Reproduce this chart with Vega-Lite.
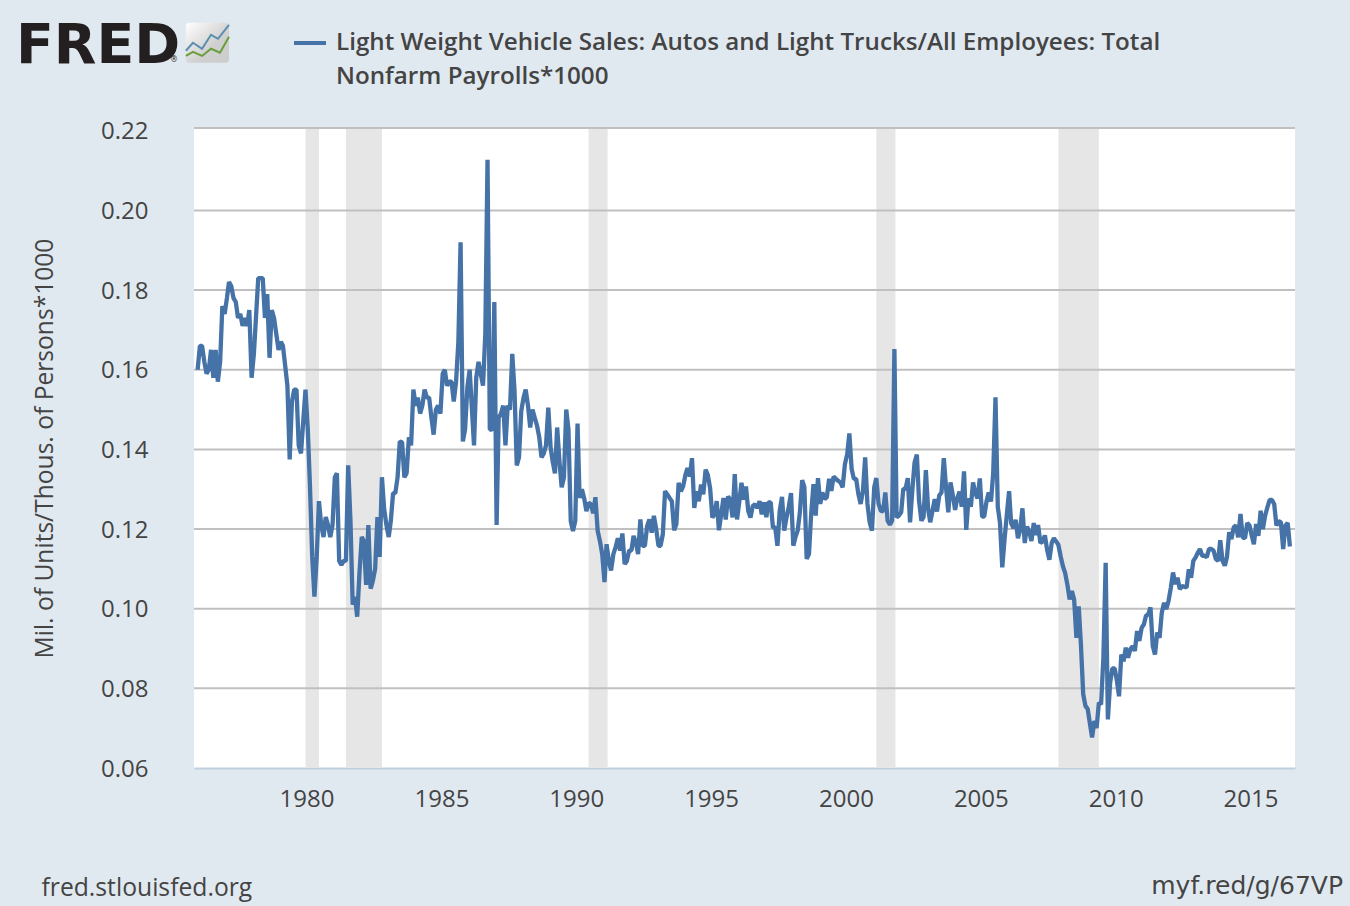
{"$schema":"https://vega.github.io/schema/vega-lite/v6.json","width":1101,"height":640,"autosize":{"type":"none"},"padding":{"left":194,"top":128,"right":55,"bottom":138},"background":"#e1e9f0","config":{"view":{"fill":"#ffffff","stroke":null},"font":"Open Sans"},"datasets":{"rec":[{"s":"1980-01-01","e":"1980-07-01"},{"s":"1981-07-01","e":"1982-11-01"},{"s":"1990-07-01","e":"1991-03-15"},{"s":"2001-03-01","e":"2001-11-15"},{"s":"2007-12-01","e":"2009-06-01"}],"grid":[{"g":0.08},{"g":0.10},{"g":0.12},{"g":0.14},{"g":0.16},{"g":0.18},{"g":0.20},{"g":0.2207}],"logoB":[{"t":"1975-07-26","v":0.2401},{"t":"1975-10-30","v":0.2421},{"t":"1976-03-01","v":0.2406},{"t":"1976-07-01","v":0.2441},{"t":"1976-10-03","v":0.2431},{"t":"1977-03-01","v":0.2466}],"logoG":[{"t":"1975-07-26","v":0.2388},{"t":"1975-10-30","v":0.2398},{"t":"1976-03-01","v":0.2388},{"t":"1976-07-01","v":0.2406},{"t":"1976-10-30","v":0.2396},{"t":"1977-03-01","v":0.2436}],"series":[
{"d":"1976-01-01","v":0.160},{"d":"1976-02-01","v":0.166},{"d":"1976-03-01","v":0.166},{"d":"1976-04-01","v":0.162},{"d":"1976-05-01","v":0.159},{"d":"1976-06-01","v":0.160},{"d":"1976-07-01","v":0.165},{"d":"1976-08-01","v":0.158},{"d":"1976-09-01","v":0.165},{"d":"1976-10-01","v":0.157},{"d":"1976-11-01","v":0.162},{"d":"1976-12-01","v":0.176},
{"d":"1977-01-01","v":0.174},{"d":"1977-02-01","v":0.178},{"d":"1977-03-01","v":0.182},{"d":"1977-04-01","v":0.181},{"d":"1977-05-01","v":0.178},{"d":"1977-06-01","v":0.177},{"d":"1977-07-01","v":0.173},{"d":"1977-08-01","v":0.174},{"d":"1977-09-01","v":0.171},{"d":"1977-10-01","v":0.173},{"d":"1977-11-01","v":0.171},{"d":"1977-12-01","v":0.175},
{"d":"1978-01-01","v":0.158},{"d":"1978-02-01","v":0.164},{"d":"1978-03-01","v":0.173},{"d":"1978-04-01","v":0.183},{"d":"1978-05-01","v":0.183},{"d":"1978-06-01","v":0.183},{"d":"1978-07-01","v":0.173},{"d":"1978-08-01","v":0.179},{"d":"1978-09-01","v":0.163},{"d":"1978-10-01","v":0.175},{"d":"1978-11-01","v":0.173},{"d":"1978-12-01","v":0.169},
{"d":"1979-01-01","v":0.165},{"d":"1979-02-01","v":0.167},{"d":"1979-03-01","v":0.166},{"d":"1979-04-01","v":0.161},{"d":"1979-05-01","v":0.156},{"d":"1979-06-01","v":0.1375},{"d":"1979-07-01","v":0.152},{"d":"1979-08-01","v":0.155},{"d":"1979-09-01","v":0.155},{"d":"1979-10-01","v":0.141},{"d":"1979-11-01","v":0.139},{"d":"1979-12-01","v":0.147},
{"d":"1980-01-01","v":0.155},{"d":"1980-02-01","v":0.145},{"d":"1980-03-01","v":0.131},{"d":"1980-04-01","v":0.113},{"d":"1980-05-01","v":0.103},{"d":"1980-06-01","v":0.113},{"d":"1980-07-01","v":0.127},{"d":"1980-08-01","v":0.121},{"d":"1980-09-01","v":0.118},{"d":"1980-10-01","v":0.123},{"d":"1980-11-01","v":0.121},{"d":"1980-12-01","v":0.118},
{"d":"1981-01-01","v":0.121},{"d":"1981-02-01","v":0.133},{"d":"1981-03-01","v":0.134},{"d":"1981-04-01","v":0.112},{"d":"1981-05-01","v":0.111},{"d":"1981-06-01","v":0.112},{"d":"1981-07-01","v":0.112},{"d":"1981-08-01","v":0.136},{"d":"1981-09-01","v":0.122},{"d":"1981-10-01","v":0.101},{"d":"1981-11-01","v":0.103},{"d":"1981-12-01","v":0.098},
{"d":"1982-01-01","v":0.109},{"d":"1982-02-01","v":0.118},{"d":"1982-03-01","v":0.117},{"d":"1982-04-01","v":0.106},{"d":"1982-05-01","v":0.121},{"d":"1982-06-01","v":0.105},{"d":"1982-07-01","v":0.107},{"d":"1982-08-01","v":0.110},{"d":"1982-09-01","v":0.123},{"d":"1982-10-01","v":0.113},{"d":"1982-11-01","v":0.133},{"d":"1982-12-01","v":0.125},
{"d":"1983-01-01","v":0.121},{"d":"1983-02-01","v":0.118},{"d":"1983-03-01","v":0.122},{"d":"1983-04-01","v":0.129},{"d":"1983-05-01","v":0.129},{"d":"1983-06-01","v":0.133},{"d":"1983-07-01","v":0.142},{"d":"1983-08-01","v":0.1418},{"d":"1983-09-01","v":0.133},{"d":"1983-10-01","v":0.134},{"d":"1983-11-01","v":0.143},{"d":"1983-12-01","v":0.141},
{"d":"1984-01-01","v":0.155},{"d":"1984-02-01","v":0.151},{"d":"1984-03-01","v":0.153},{"d":"1984-04-01","v":0.149},{"d":"1984-05-01","v":0.151},{"d":"1984-06-01","v":0.155},{"d":"1984-07-01","v":0.153},{"d":"1984-08-01","v":0.153},{"d":"1984-09-01","v":0.148},{"d":"1984-10-01","v":0.1437},{"d":"1984-11-01","v":0.150},{"d":"1984-12-01","v":0.151},
{"d":"1985-01-01","v":0.149},{"d":"1985-02-01","v":0.159},{"d":"1985-03-01","v":0.160},{"d":"1985-04-01","v":0.156},{"d":"1985-05-01","v":0.157},{"d":"1985-06-01","v":0.157},{"d":"1985-07-01","v":0.152},{"d":"1985-08-01","v":0.157},{"d":"1985-09-01","v":0.167},{"d":"1985-10-01","v":0.192},{"d":"1985-11-01","v":0.142},{"d":"1985-12-01","v":0.145},
{"d":"1986-01-01","v":0.1556},{"d":"1986-02-01","v":0.160},{"d":"1986-03-01","v":0.151},{"d":"1986-04-01","v":0.141},{"d":"1986-05-01","v":0.158},{"d":"1986-06-01","v":0.162},{"d":"1986-07-01","v":0.159},{"d":"1986-08-01","v":0.156},{"d":"1986-09-01","v":0.169},{"d":"1986-10-01","v":0.2127},{"d":"1986-11-01","v":0.145},{"d":"1986-12-01","v":0.145},
{"d":"1987-01-01","v":0.177},{"d":"1987-02-01","v":0.121},{"d":"1987-03-01","v":0.148},{"d":"1987-04-01","v":0.149},{"d":"1987-05-01","v":0.151},{"d":"1987-06-01","v":0.141},{"d":"1987-07-01","v":0.151},{"d":"1987-08-01","v":0.150},{"d":"1987-09-01","v":0.164},{"d":"1987-10-01","v":0.155},{"d":"1987-11-01","v":0.136},{"d":"1987-12-01","v":0.138},
{"d":"1988-01-01","v":0.1497},{"d":"1988-02-01","v":0.153},{"d":"1988-03-01","v":0.155},{"d":"1988-04-01","v":0.151},{"d":"1988-05-01","v":0.1455},{"d":"1988-06-01","v":0.150},{"d":"1988-07-01","v":0.148},{"d":"1988-08-01","v":0.146},{"d":"1988-09-01","v":0.143},{"d":"1988-10-01","v":0.138},{"d":"1988-11-01","v":0.139},{"d":"1988-12-01","v":0.141},
{"d":"1989-01-01","v":0.1505},{"d":"1989-02-01","v":0.1405},{"d":"1989-03-01","v":0.137},{"d":"1989-04-01","v":0.134},{"d":"1989-05-01","v":0.1455},{"d":"1989-06-01","v":0.137},{"d":"1989-07-01","v":0.1305},{"d":"1989-08-01","v":0.133},{"d":"1989-09-01","v":0.150},{"d":"1989-10-01","v":0.145},{"d":"1989-11-01","v":0.122},{"d":"1989-12-01","v":0.1195},
{"d":"1990-01-01","v":0.122},{"d":"1990-02-01","v":0.1465},{"d":"1990-03-01","v":0.1278},{"d":"1990-04-01","v":0.130},{"d":"1990-05-01","v":0.1278},{"d":"1990-06-01","v":0.1245},{"d":"1990-07-01","v":0.1266},{"d":"1990-08-01","v":0.1262},{"d":"1990-09-01","v":0.124},{"d":"1990-10-01","v":0.128},{"d":"1990-11-01","v":0.1195},{"d":"1990-12-01","v":0.117},
{"d":"1991-01-01","v":0.1137},{"d":"1991-02-01","v":0.1067},{"d":"1991-03-01","v":0.1162},{"d":"1991-04-01","v":0.112},{"d":"1991-05-01","v":0.1096},{"d":"1991-06-01","v":0.1137},{"d":"1991-07-01","v":0.1154},{"d":"1991-08-01","v":0.1177},{"d":"1991-09-01","v":0.1146},{"d":"1991-10-01","v":0.1189},{"d":"1991-11-01","v":0.1112},{"d":"1991-12-01","v":0.112},
{"d":"1992-01-01","v":0.1146},{"d":"1992-02-01","v":0.1146},{"d":"1992-03-01","v":0.1183},{"d":"1992-04-01","v":0.1166},{"d":"1992-05-01","v":0.1137},{"d":"1992-06-01","v":0.1224},{"d":"1992-07-01","v":0.1158},{"d":"1992-08-01","v":0.1158},{"d":"1992-09-01","v":0.1208},{"d":"1992-10-01","v":0.1224},{"d":"1992-11-01","v":0.1191},{"d":"1992-12-01","v":0.1233},
{"d":"1993-01-01","v":0.120},{"d":"1993-02-01","v":0.1158},{"d":"1993-03-01","v":0.1158},{"d":"1993-04-01","v":0.1187},{"d":"1993-05-01","v":0.1295},{"d":"1993-06-01","v":0.1287},{"d":"1993-07-01","v":0.1278},{"d":"1993-08-01","v":0.127},{"d":"1993-09-01","v":0.1197},{"d":"1993-10-01","v":0.1212},{"d":"1993-11-01","v":0.1316},{"d":"1993-12-01","v":0.1295},
{"d":"1994-01-01","v":0.1307},{"d":"1994-02-01","v":0.1336},{"d":"1994-03-01","v":0.1353},{"d":"1994-04-01","v":0.1332},{"d":"1994-05-01","v":0.1378},{"d":"1994-06-01","v":0.1253},{"d":"1994-07-01","v":0.1295},{"d":"1994-08-01","v":0.127},{"d":"1994-09-01","v":0.1312},{"d":"1994-10-01","v":0.1287},{"d":"1994-11-01","v":0.1349},{"d":"1994-12-01","v":0.1336},
{"d":"1995-01-01","v":0.1303},{"d":"1995-02-01","v":0.1229},{"d":"1995-03-01","v":0.1237},{"d":"1995-04-01","v":0.127},{"d":"1995-05-01","v":0.1197},{"d":"1995-06-01","v":0.1237},{"d":"1995-07-01","v":0.1278},{"d":"1995-08-01","v":0.1224},{"d":"1995-09-01","v":0.1282},{"d":"1995-10-01","v":0.1274},{"d":"1995-11-01","v":0.1229},{"d":"1995-12-01","v":0.1338},
{"d":"1996-01-01","v":0.1224},{"d":"1996-02-01","v":0.127},{"d":"1996-03-01","v":0.1316},{"d":"1996-04-01","v":0.1274},{"d":"1996-05-01","v":0.1307},{"d":"1996-06-01","v":0.1245},{"d":"1996-07-01","v":0.1229},{"d":"1996-08-01","v":0.1258},{"d":"1996-09-01","v":0.1262},{"d":"1996-10-01","v":0.1253},{"d":"1996-11-01","v":0.127},{"d":"1996-12-01","v":0.1237},
{"d":"1997-01-01","v":0.1267},{"d":"1997-02-01","v":0.123},{"d":"1997-03-01","v":0.1267},{"d":"1997-04-01","v":0.1267},{"d":"1997-05-01","v":0.1204},{"d":"1997-06-01","v":0.1204},{"d":"1997-07-01","v":0.1158},{"d":"1997-08-01","v":0.1246},{"d":"1997-09-01","v":0.1281},{"d":"1997-10-01","v":0.1196},{"d":"1997-11-01","v":0.1229},{"d":"1997-12-01","v":0.1255},
{"d":"1998-01-01","v":0.129},{"d":"1998-02-01","v":0.1158},{"d":"1998-03-01","v":0.1179},{"d":"1998-04-01","v":0.1196},{"d":"1998-05-01","v":0.1242},{"d":"1998-06-01","v":0.1323},{"d":"1998-07-01","v":0.1305},{"d":"1998-08-01","v":0.1125},{"d":"1998-09-01","v":0.1137},{"d":"1998-10-01","v":0.1238},{"d":"1998-11-01","v":0.1313},{"d":"1998-12-01","v":0.1234},
{"d":"1999-01-01","v":0.1328},{"d":"1999-02-01","v":0.1263},{"d":"1999-03-01","v":0.1292},{"d":"1999-04-01","v":0.1275},{"d":"1999-05-01","v":0.128},{"d":"1999-06-01","v":0.1326},{"d":"1999-07-01","v":0.1296},{"d":"1999-08-01","v":0.1332},{"d":"1999-09-01","v":0.1326},{"d":"1999-10-01","v":0.1321},{"d":"1999-11-01","v":0.1317},{"d":"1999-12-01","v":0.1305},
{"d":"2000-01-01","v":0.1363},{"d":"2000-02-01","v":0.1388},{"d":"2000-03-01","v":0.144},{"d":"2000-04-01","v":0.1351},{"d":"2000-05-01","v":0.1326},{"d":"2000-06-01","v":0.1326},{"d":"2000-07-01","v":0.1288},{"d":"2000-08-01","v":0.1263},{"d":"2000-09-01","v":0.1296},{"d":"2000-10-01","v":0.138},{"d":"2000-11-01","v":0.1263},{"d":"2000-12-01","v":0.1217},
{"d":"2001-01-01","v":0.1196},{"d":"2001-02-01","v":0.1305},{"d":"2001-03-01","v":0.1328},{"d":"2001-04-01","v":0.1263},{"d":"2001-05-01","v":0.1246},{"d":"2001-06-01","v":0.1244},{"d":"2001-07-01","v":0.1292},{"d":"2001-08-01","v":0.1221},{"d":"2001-09-01","v":0.1211},{"d":"2001-10-01","v":0.1221},{"d":"2001-11-01","v":0.1652},{"d":"2001-12-01","v":0.1229},
{"d":"2002-01-01","v":0.1234},{"d":"2002-02-01","v":0.1242},{"d":"2002-03-01","v":0.1301},{"d":"2002-04-01","v":0.1301},{"d":"2002-05-01","v":0.1328},{"d":"2002-06-01","v":0.1217},{"d":"2002-07-01","v":0.1296},{"d":"2002-08-01","v":0.1367},{"d":"2002-09-01","v":0.1387},{"d":"2002-10-01","v":0.1271},{"d":"2002-11-01","v":0.1221},{"d":"2002-12-01","v":0.123},
{"d":"2003-01-01","v":0.1348},{"d":"2003-02-01","v":0.125},{"d":"2003-03-01","v":0.1217},{"d":"2003-04-01","v":0.1246},{"d":"2003-05-01","v":0.1275},{"d":"2003-06-01","v":0.1244},{"d":"2003-07-01","v":0.1284},{"d":"2003-08-01","v":0.1292},{"d":"2003-09-01","v":0.1378},{"d":"2003-10-01","v":0.1305},{"d":"2003-11-01","v":0.1242},{"d":"2003-12-01","v":0.1317},
{"d":"2004-01-01","v":0.1285},{"d":"2004-02-01","v":0.1248},{"d":"2004-03-01","v":0.1277},{"d":"2004-04-01","v":0.1294},{"d":"2004-05-01","v":0.1256},{"d":"2004-06-01","v":0.1345},{"d":"2004-07-01","v":0.1198},{"d":"2004-08-01","v":0.1277},{"d":"2004-09-01","v":0.1256},{"d":"2004-10-01","v":0.1317},{"d":"2004-11-01","v":0.129},{"d":"2004-12-01","v":0.1277},
{"d":"2005-01-01","v":0.1327},{"d":"2005-02-01","v":0.1231},{"d":"2005-03-01","v":0.1231},{"d":"2005-04-01","v":0.1269},{"d":"2005-05-01","v":0.1292},{"d":"2005-06-01","v":0.1269},{"d":"2005-07-01","v":0.134},{"d":"2005-08-01","v":0.1531},{"d":"2005-09-01","v":0.1256},{"d":"2005-10-01","v":0.1215},{"d":"2005-11-01","v":0.1104},{"d":"2005-12-01","v":0.1173},
{"d":"2006-01-01","v":0.1235},{"d":"2006-02-01","v":0.1295},{"d":"2006-03-01","v":0.1215},{"d":"2006-04-01","v":0.1202},{"d":"2006-05-01","v":0.1223},{"d":"2006-06-01","v":0.1177},{"d":"2006-07-01","v":0.1198},{"d":"2006-08-01","v":0.1252},{"d":"2006-09-01","v":0.1165},{"d":"2006-10-01","v":0.1206},{"d":"2006-11-01","v":0.1194},{"d":"2006-12-01","v":0.117},
{"d":"2007-01-01","v":0.1215},{"d":"2007-02-01","v":0.1185},{"d":"2007-03-01","v":0.121},{"d":"2007-04-01","v":0.1165},{"d":"2007-05-01","v":0.1169},{"d":"2007-06-01","v":0.1184},{"d":"2007-07-01","v":0.1148},{"d":"2007-08-01","v":0.1123},{"d":"2007-09-01","v":0.1165},{"d":"2007-10-01","v":0.1177},{"d":"2007-11-01","v":0.1169},{"d":"2007-12-01","v":0.116},
{"d":"2008-01-01","v":0.1131},{"d":"2008-02-01","v":0.1106},{"d":"2008-03-01","v":0.109},{"d":"2008-04-01","v":0.106},{"d":"2008-05-01","v":0.1023},{"d":"2008-06-01","v":0.1044},{"d":"2008-07-01","v":0.1023},{"d":"2008-08-01","v":0.0927},{"d":"2008-09-01","v":0.1006},{"d":"2008-10-01","v":0.091},{"d":"2008-11-01","v":0.0785},{"d":"2008-12-01","v":0.0756},
{"d":"2009-01-01","v":0.0748},{"d":"2009-02-01","v":0.071},{"d":"2009-03-01","v":0.0677},{"d":"2009-04-01","v":0.0718},{"d":"2009-05-01","v":0.07},{"d":"2009-06-01","v":0.0764},{"d":"2009-07-01","v":0.076},{"d":"2009-08-01","v":0.0877},{"d":"2009-09-01","v":0.1115},{"d":"2009-10-01","v":0.0722},{"d":"2009-11-01","v":0.0815},{"d":"2009-12-01","v":0.085},
{"d":"2010-01-01","v":0.085},{"d":"2010-02-01","v":0.0818},{"d":"2010-03-01","v":0.078},{"d":"2010-04-01","v":0.0885},{"d":"2010-05-01","v":0.0868},{"d":"2010-06-01","v":0.0902},{"d":"2010-07-01","v":0.0877},{"d":"2010-08-01","v":0.0898},{"d":"2010-09-01","v":0.0906},{"d":"2010-10-01","v":0.0894},{"d":"2010-11-01","v":0.0944},{"d":"2010-12-01","v":0.0919},
{"d":"2011-01-01","v":0.0952},{"d":"2011-02-01","v":0.0961},{"d":"2011-03-01","v":0.0982},{"d":"2011-04-01","v":0.0986},{"d":"2011-05-01","v":0.1003},{"d":"2011-06-01","v":0.0906},{"d":"2011-07-01","v":0.0885},{"d":"2011-08-01","v":0.094},{"d":"2011-09-01","v":0.0927},{"d":"2011-10-01","v":0.099},{"d":"2011-11-01","v":0.1015},{"d":"2011-12-01","v":0.0999},
{"d":"2012-01-01","v":0.102},{"d":"2012-02-01","v":0.1053},{"d":"2012-03-01","v":0.1091},{"d":"2012-04-01","v":0.1062},{"d":"2012-05-01","v":0.1078},{"d":"2012-06-01","v":0.1049},{"d":"2012-07-01","v":0.1057},{"d":"2012-08-01","v":0.1055},{"d":"2012-09-01","v":0.1053},{"d":"2012-10-01","v":0.1099},{"d":"2012-11-01","v":0.1078},{"d":"2012-12-01","v":0.112},
{"d":"2013-01-01","v":0.1129},{"d":"2013-02-01","v":0.1141},{"d":"2013-03-01","v":0.115},{"d":"2013-04-01","v":0.1133},{"d":"2013-05-01","v":0.1133},{"d":"2013-06-01","v":0.1129},{"d":"2013-07-01","v":0.115},{"d":"2013-08-01","v":0.115},{"d":"2013-09-01","v":0.1146},{"d":"2013-10-01","v":0.1125},{"d":"2013-11-01","v":0.112},{"d":"2013-12-01","v":0.1172},
{"d":"2014-01-01","v":0.112},{"d":"2014-02-01","v":0.1108},{"d":"2014-03-01","v":0.1129},{"d":"2014-04-01","v":0.1192},{"d":"2014-05-01","v":0.1175},{"d":"2014-06-01","v":0.1204},{"d":"2014-07-01","v":0.1209},{"d":"2014-08-01","v":0.1179},{"d":"2014-09-01","v":0.1238},{"d":"2014-10-01","v":0.1179},{"d":"2014-11-01","v":0.1177},{"d":"2014-12-01","v":0.1215},
{"d":"2015-01-01","v":0.1209},{"d":"2015-02-01","v":0.1183},{"d":"2015-03-01","v":0.1162},{"d":"2015-04-01","v":0.1213},{"d":"2015-05-01","v":0.1183},{"d":"2015-06-01","v":0.1246},{"d":"2015-07-01","v":0.12},{"d":"2015-08-01","v":0.1234},{"d":"2015-09-01","v":0.1255},{"d":"2015-10-01","v":0.1273},{"d":"2015-11-01","v":0.1273},{"d":"2015-12-01","v":0.1263},
{"d":"2016-01-01","v":0.1209},{"d":"2016-02-01","v":0.122},{"d":"2016-03-01","v":0.1217},{"d":"2016-04-01","v":0.115},{"d":"2016-05-01","v":0.1209},{"d":"2016-06-01","v":0.1215},{"d":"2016-07-01","v":0.1156}
]},"layer":[
{"data":{"name":"rec"},"mark":{"type":"rect","color":"#e6e6e6"},"encoding":{"x":{"field":"s","type":"temporal","scale":{"type":"utc","domain":["1975-11-13","2016-09-08"]},"axis":{"values":["1980-01-01","1985-01-01","1990-01-01","1995-01-01","2000-01-01","2005-01-01","2010-01-01","2015-01-01"],"format":"%Y","grid":false,"ticks":false,"domain":true,"domainColor":"#c0d0e0","domainWidth":2,"labelFont":"Open Sans","labelFontSize":24,"labelColor":"#444444","labelPadding":19,"labelOffset":1,"labelFlush":false,"title":"fred.stlouisfed.org","titleFont":"Open Sans","titleFontSize":24.7,"titleFontWeight":"normal","titleColor":"#444444","titleAnchor":"start","titleAlign":"left","titleBaseline":"alphabetic","titleX":-153,"titleY":127}},"x2":{"field":"e"},"y":{"datum":0.06,"type":"quantitative","scale":{"domain":[0.06,0.2207],"nice":false,"zero":false},"axis":{"values":[0.06,0.08,0.10,0.12,0.14,0.16,0.18,0.20,0.22],"format":".2f","grid":false,"ticks":false,"domain":false,"labelFont":"Open Sans","labelFontSize":24,"labelColor":"#444444","labelPadding":46,"labelOffset":1,"labelFlush":false,"title":"Mil. of Units/Thous. of Persons*1000","titleFont":"Open Sans","titleFontSize":24.6,"titleFontWeight":"normal","titleColor":"#444444","titleX":-137}},"y2":{"datum":0.2207}}},
{"data":{"name":"grid"},"mark":{"type":"rule","color":"#c0c0c0","strokeWidth":2},"encoding":{"y":{"field":"g","type":"quantitative"}}},
{"data":{"name":"series"},"mark":{"type":"line","strokeWidth":4.3,"strokeJoin":"bevel"},"encoding":{"x":{"field":"d","type":"temporal"},"y":{"field":"v","type":"quantitative"},"color":{"datum":"Light Weight Vehicle Sales: Autos and Light Trucks/All Employees: Total Nonfarm Payrolls*1000","type":"nominal","scale":{"range":["#4572a7"]},"legend":{"title":null,"orient":"none","legendX":98,"legendY":-103,"symbolType":"stroke","symbolSize":1024,"symbolStrokeWidth":4,"symbolOpacity":1,"labelFont":"Open Sans","labelFontSize":24.2,"labelFontWeight":600,"labelColor":"#444444","labelLimit":1000,"labelOffset":8,"labelExpr":"['Light Weight Vehicle Sales: Autos and Light Trucks/All Employees: Total','Nonfarm Payrolls*1000']","encode":{"labels":{"update":{"lineHeight":{"value":34}}}}}}}},
{"data":{"values":[{"label":"myf.red/g/67VP"}]},"mark":{"type":"text","align":"right","baseline":"alphabetic","font":"DejaVu Sans","fontSize":25,"color":"#444444"},"encoding":{"text":{"field":"label"},"x":{"datum":{"year":2018,"month":6,"date":20,"utc":true},"type":"temporal"},"y":{"datum":0.0283,"type":"quantitative"}}},
{"data":{"values":[{"label":"FRED"}]},"mark":{"type":"text","align":"left","baseline":"alphabetic","font":"DejaVu Sans","fontWeight":"bold","fontSize":55.4,"color":"#231f20"},"encoding":{"text":{"field":"label"},"x":{"datum":{"year":1969,"month":4,"date":7,"utc":true},"type":"temporal"},"y":{"datum":0.2371,"type":"quantitative"}}},
{"data":{"values":[{"label":"®"}]},"mark":{"type":"text","align":"center","baseline":"middle","font":"DejaVu Sans","fontSize":8,"color":"#231f20"},"encoding":{"text":{"field":"label"},"x":{"datum":{"year":1975,"month":2,"date":15,"utc":true},"type":"temporal"},"y":{"datum":0.2378,"type":"quantitative"}}},
{"data":{"values":[{"label":"logo"}]},"mark":{"type":"rect","cornerRadius":3,"fill":{"gradient":"linear","x1":0,"y1":0,"x2":1,"y2":1,"stops":[{"offset":0,"color":"#ffffff"},{"offset":0.6,"color":"#d0d0d0"},{"offset":1,"color":"#cccccc"}]}},"encoding":{"x":{"datum":{"year":1975,"month":7,"date":26,"utc":true},"type":"temporal"},"x2":{"datum":{"year":1977,"month":3,"date":1,"utc":true}},"y":{"datum":0.2371,"type":"quantitative"},"y2":{"datum":0.2471}}},
{"data":{"name":"logoB"},"mark":{"type":"line","color":"#5b8fb0","strokeWidth":2},"encoding":{"x":{"field":"t","type":"temporal"},"y":{"field":"v","type":"quantitative"}}},
{"data":{"name":"logoG"},"mark":{"type":"line","color":"#6a9e3c","strokeWidth":2},"encoding":{"x":{"field":"t","type":"temporal"},"y":{"field":"v","type":"quantitative"}}}
]}
